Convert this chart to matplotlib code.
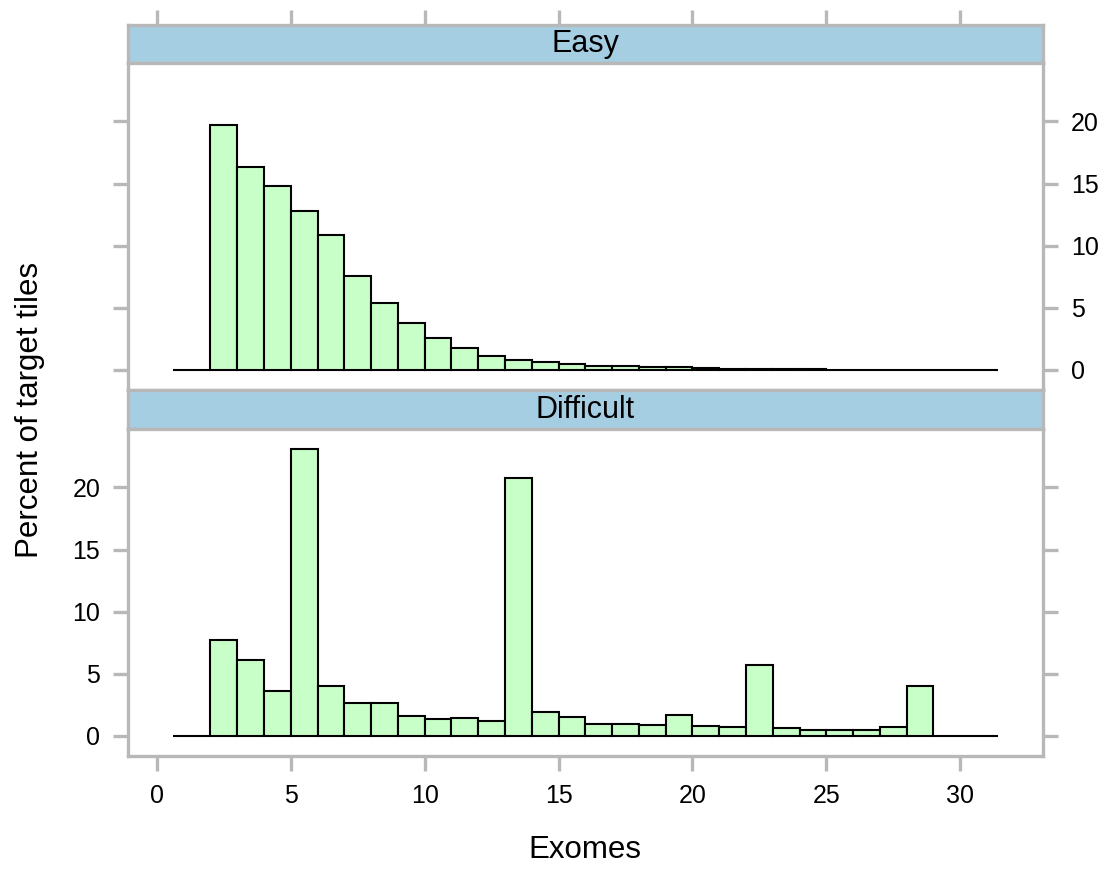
import numpy as np
import matplotlib
matplotlib.use("Agg")
import matplotlib.pyplot as plt

########################################################
# Data (percent of target tiles per exome-count bin)
########################################################

bin_edges = [0.6, 1, 2, 3, 4, 5, 6, 7, 8, 9, 10, 11, 12, 13, 14, 15, 16,
             17, 18, 19, 20, 21, 22, 23, 24, 25, 26, 27, 28, 29, 30, 31, 31.4]

easy_pct = [0, 0, 19.73, 16.37, 14.79, 12.77, 10.86, 7.53, 5.40, 3.74, 2.56,
            1.80, 1.16, 0.82, 0.60, 0.44, 0.30, 0.28, 0.22, 0.20, 0.13, 0.10,
            0.09, 0.08, 0.05, 0.03, 0.02, 0.02, 0.01, 0, 0, 0]

difficult_pct = [0, 0, 7.74, 6.15, 3.60, 23.09, 3.98, 2.63, 2.69, 1.58, 1.37,
                 1.45, 1.21, 20.80, 1.90, 1.50, 0.97, 0.95, 0.91, 1.69, 0.83,
                 0.75, 5.67, 0.67, 0.51, 0.50, 0.51, 0.69, 4.03, 0, 0, 0]

panel_names = ["Easy", "Difficult"]
x_ticks = [0, 5, 10, 15, 20, 25, 30]
y_ticks = [0, 5, 10, 15, 20]

########################################################
# Style
########################################################

plt.rcParams['font.family'] = ['Liberation Sans', 'DejaVu Sans']
FRAME = "#B8B8B8"
STRIP = "#A6CEE3"
FILL = "#C8FFC8"
W, H = 1111, 869

xlim = (-1.08, 33.09)
ymax = max(max(easy_pct), max(difficult_pct))
ylim = (-0.07 * ymax, 1.07 * ymax)


def fig_rect(x0, y0, x1, y1):
    # pixel box (top-left origin) -> figure fraction rect
    return [x0 / W, 1 - y1 / H, (x1 - x0) / W, (y1 - y0) / H]


def style_axes(ax):
    for sp in ax.spines.values():
        sp.set_color(FRAME)
        sp.set_linewidth(2.4)
    ax.tick_params(colors=FRAME, width=2.4, length=11, labelcolor="black",
                   labelsize=18, pad=9)


fig = plt.figure(figsize=(W / 100, H / 100), dpi=100)

left, right = 128, 1043
strip_top = fig.add_axes(fig_rect(left, 25, right, 63))
ax_top = fig.add_axes(fig_rect(left, 63, right, 390))
strip_bot = fig.add_axes(fig_rect(left, 390, right, 429))
ax_bot = fig.add_axes(fig_rect(left, 429, right, 756))

edges = np.array(bin_edges)
widths = np.diff(edges)

for ax, vals in [(ax_top, easy_pct), (ax_bot, difficult_pct)]:
    ax.bar(edges[:-1], vals, width=widths, align='edge', color=FILL,
           edgecolor="black", linewidth=1.5)
    ax.set_xlim(*xlim)
    ax.set_ylim(*ylim)
    ax.set_yticks(y_ticks)
    style_axes(ax)

for ax, name in [(strip_top, panel_names[0]), (strip_bot, panel_names[1])]:
    ax.set_facecolor(STRIP)
    ax.set_xlim(*xlim)
    ax.set_yticks([])
    style_axes(ax)
    ax.text(0.5, 0.5, name, transform=ax.transAxes, ha='center', va='center',
            fontsize=22)

# top strip carries the top x ticks (no labels)
strip_top.set_xticks(x_ticks)
strip_top.tick_params(axis='x', bottom=False, labelbottom=False,
                      top=True, labeltop=False)
strip_bot.set_xticks([])

# top panel: y labels on the right
ax_top.set_xticks([])
ax_top.tick_params(axis='y', left=True, right=True, labelleft=False,
                   labelright=True)

# bottom panel: y labels on the left, x labels on the bottom
ax_bot.set_xticks(x_ticks)
ax_bot.tick_params(axis='y', left=True, right=True, labelleft=True,
                   labelright=False)

fig.text(585 / W, 1 - 850 / H, "Exomes", ha='center', va='center',
         fontsize=22.5)
fig.text(30 / W, 1 - 410 / H, "Percent of target tiles", ha='center',
         va='center', rotation=90, fontsize=22.5)

fig.savefig("out.png", dpi=100)
